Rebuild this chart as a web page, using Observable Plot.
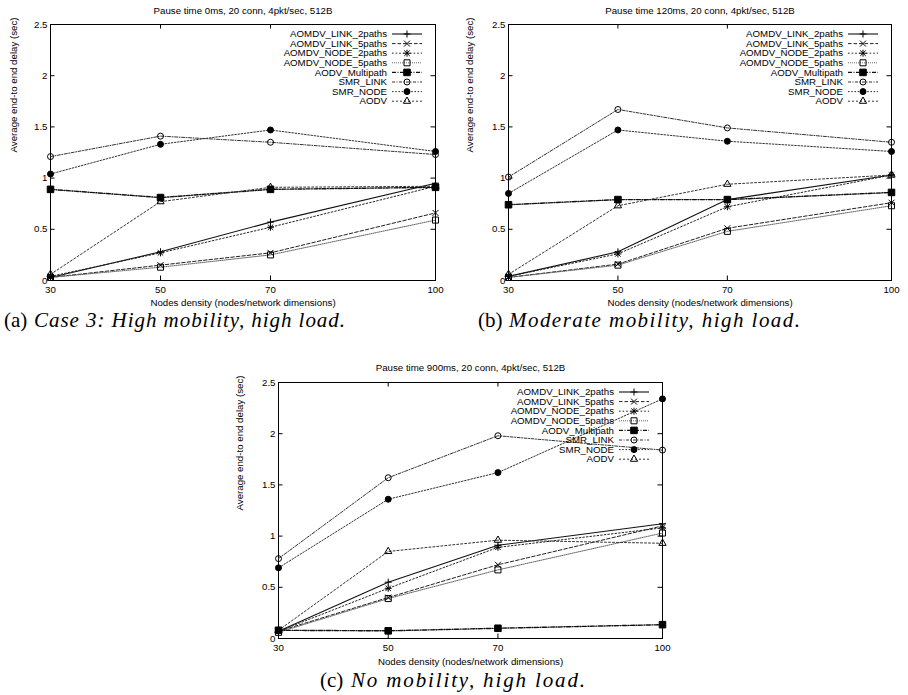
<!DOCTYPE html>
<html><head><meta charset="utf-8">
<script src="https://cdn.jsdelivr.net/npm/d3@7"></script>
<script src="https://cdn.jsdelivr.net/npm/@observablehq/plot@0.6"></script>
<style>
html,body{margin:0;padding:0;background:#fff;}
body{width:908px;height:695px;position:relative;overflow:hidden;}
.panel{position:absolute;}
.panel svg{overflow:visible;}
#captions{position:absolute;left:0;top:0;pointer-events:none;}
</style></head><body>
<script>
// ---- data ----
const nodes = [30, 50, 70, 100];
const yTicks = [0, 0.5, 1, 1.5, 2, 2.5];
const protocols = ["AOMDV_LINK_2paths", "AOMDV_LINK_5paths", "AOMDV_NODE_2paths", "AOMDV_NODE_5paths",
  "AODV_Multipath", "SMR_LINK", "SMR_NODE", "AODV"];
// rows follow protocols order, columns follow nodes
const pause0ms = [
  [0.03, 0.28, 0.57, 0.95],
  [0.03, 0.15, 0.27, 0.66],
  [0.04, 0.27, 0.52, 0.92],
  [0.03, 0.13, 0.25, 0.59],
  [0.89, 0.81, 0.89, 0.91],
  [1.21, 1.41, 1.35, 1.23],
  [1.04, 1.33, 1.47, 1.26],
  [0.06, 0.77, 0.91, 0.92]
];
const pause120ms = [
  [0.04, 0.28, 0.79, 1.03],
  [0.03, 0.16, 0.51, 0.76],
  [0.04, 0.26, 0.72, 1.03],
  [0.03, 0.15, 0.48, 0.73],
  [0.74, 0.79, 0.79, 0.86],
  [1.01, 1.67, 1.49, 1.35],
  [0.85, 1.47, 1.36, 1.26],
  [0.06, 0.73, 0.94, 1.03]
];
const pause900ms = [
  [0.07, 0.55, 0.91, 1.12],
  [0.07, 0.40, 0.72, 1.10],
  [0.07, 0.49, 0.89, 1.08],
  [0.06, 0.39, 0.67, 1.03],
  [0.08, 0.075, 0.10, 0.135],
  [0.78, 1.57, 1.98, 1.84],
  [0.69, 1.36, 1.62, 2.34],
  [0.08, 0.85, 0.96, 0.93]
];
const titles = ["Pause time 0ms, 20 conn, 4pkt/sec, 512B", "Pause time 120ms, 20 conn, 4pkt/sec, 512B", "Pause time 900ms, 20 conn, 4pkt/sec, 512B"];
const xLabel = "Nodes density (nodes/network dimensions)";
const yLabel = "Average end-to end delay (sec)";
const captionTags = ["(a)", "(b)", "(c)"];
const captionTexts = ["Case 3: High mobility, high load.", "Moderate mobility, high load.", "No mobility, high load."];

// ---- styles ----
const lineStyles = [
  {dash: null, width: 1.1, color: "#111"},
  {dash: "3.5,2", width: 1, color: "#222"},
  {dash: "1.6,2", width: 1, color: "#222"},
  {dash: "1,1", width: 1, color: "#666"},
  {dash: "4,1.5,1,1.5", width: 1.4, color: "#111"},
  {dash: "3,1.5,1,1.5", width: 1, color: "#333"},
  {dash: "1.6,1.6", width: 1, color: "#333"},
  {dash: "2,2", width: 1, color: "#333"}
];
const markStyles = [
  [{symbol: "plus", r: 2.4, fill: "none"}],
  [{symbol: "times", r: 2.8, fill: "none"}],
  [{symbol: "plus", r: 2.4, fill: "none"}, {symbol: "times", r: 2.6, fill: "none"}],
  [{symbol: "square", r: 3.4, fill: "none"}],
  [{symbol: "square", r: 3.7, fill: "black"}],
  [{symbol: "circle", r: 3, fill: "none"}],
  [{symbol: "circle", r: 3, fill: "black"}],
  [{symbol: "triangle", r: 2.7, fill: "none"}]
];
const d3Symbols = {plus: d3.symbolPlus, times: d3.symbolTimes, square: d3.symbolSquare, circle: d3.symbolCircle, triangle: d3.symbolTriangle};

const layouts = [
  {left: 0, top: 0, width: 454, height: 312, ml: 50, mr: 19, mt: 24, mb: 32, titleDy: -11, xlDy: 25, ylDx: -37},
  {left: 454, top: 0, width: 454, height: 312, ml: 54, mr: 17, mt: 24, mb: 32, titleDy: -11, xlDy: 25, ylDx: -39},
  {left: 220, top: 340, width: 480, height: 340, ml: 58, mr: 38, mt: 42, mb: 42, titleDy: -12, xlDy: 26, ylDx: -39}
];

function legendMark(index, scales, values, dims) {
  const g = d3.create("svg:g");
  const xr = dims.width - dims.marginRight;
  protocols.forEach((p, i) => {
    const y = dims.marginTop + 10 + 9.6 * i;
    g.append("text").attr("x", xr - 48).attr("y", y).attr("dy", "0.34em")
      .attr("text-anchor", "end").attr("fill", "black").text(p);
    const ls = lineStyles[i];
    g.append("line").attr("x1", xr - 43).attr("x2", xr - 13).attr("y1", y).attr("y2", y)
      .attr("stroke", ls.color).attr("stroke-width", ls.width)
      .attr("stroke-dasharray", ls.dash);
    markStyles[i].forEach(m => {
      g.append("path")
        .attr("transform", `translate(${xr - 28},${y})`)
        .attr("d", d3.symbol(d3Symbols[m.symbol], m.r * m.r * Math.PI)())
        .attr("fill", m.fill).attr("stroke", "black").attr("stroke-width", 1);
    });
  });
  return g.node();
}

function makePanel(values, k) {
  const L = layouts[k];
  const fw = L.width - L.ml - L.mr, fh = L.height - L.mt - L.mb;
  const rows = [];
  protocols.forEach((p, i) => nodes.forEach((n, j) => rows.push({protocol: p, i, nodes: n, delay: values[i][j]})));
  const marks = [
    Plot.frame({stroke: "black", strokeWidth: 1}),
    Plot.tickX(nodes, {x: d => d, insetTop: fh - 4.5, stroke: "black"}),
    Plot.tickX(nodes, {x: d => d, insetBottom: fh - 4.5, stroke: "black"}),
    Plot.tickY(yTicks, {y: d => d, insetRight: fw - 4.5, stroke: "black"}),
    Plot.tickY(yTicks, {y: d => d, insetLeft: fw - 4.5, stroke: "black"}),
    Plot.axisX(nodes, {tickSize: 0, tickPadding: 6, tickFormat: d => String(d), label: null}),
    Plot.axisY(yTicks, {tickSize: 0, tickPadding: 3, tickFormat: d => String(d), label: null}),
    Plot.text([titles[k]], {text: d => d, frameAnchor: "top", lineAnchor: "bottom", dy: L.titleDy, fill: "black"}),
    Plot.text([xLabel], {text: d => d, frameAnchor: "bottom", lineAnchor: "bottom", dy: L.xlDy, fill: "black"}),
    Plot.text([yLabel], {text: d => d, frameAnchor: "left", rotate: -90, dx: L.ylDx, fill: "black"})
  ];
  protocols.forEach((p, i) => {
    const ls = lineStyles[i];
    marks.push(Plot.line(rows.filter(r => r.i === i), {x: "nodes", y: "delay", stroke: ls.color, strokeWidth: ls.width, strokeDasharray: ls.dash}));
  });
  protocols.forEach((p, i) => {
    markStyles[i].forEach(m => {
      marks.push(Plot.dot(rows.filter(r => r.i === i), {x: "nodes", y: "delay", symbol: m.symbol, r: m.r, fill: m.fill, stroke: "black", strokeWidth: 1}));
    });
  });
  marks.push(legendMark);
  const chart = Plot.plot({
    width: L.width, height: L.height,
    marginLeft: L.ml, marginRight: L.mr, marginTop: L.mt, marginBottom: L.mb,
    x: {type: "linear", domain: [30, 100]},
    y: {type: "linear", domain: [0, 2.5]},
    style: {fontFamily: "'Liberation Sans', Arial, Helvetica, sans-serif", fontSize: "9.7px", color: "black", background: "transparent"},
    marks
  });
  const div = document.createElement("div");
  div.className = "panel";
  div.style.left = L.left + "px";
  div.style.top = L.top + "px";
  div.appendChild(chart);
  document.body.appendChild(div);
}

makePanel(pause0ms, 0);
makePanel(pause120ms, 1);
makePanel(pause900ms, 2);

// captions
const capPos = [
  {tagX: 4, textX: 34, textEnd: 345, y: 327},
  {tagX: 478, textX: 509, textEnd: 800, y: 327},
  {tagX: 320, textX: 351, textEnd: 585, y: 687}
];
const capSvg = d3.select("body").append("svg").attr("id", "captions").attr("width", 908).attr("height", 695)
  .style("font-family", "'Liberation Serif', 'Times New Roman', serif").style("font-size", "21px");
capPos.forEach((c, i) => {
  capSvg.append("text").attr("x", c.tagX).attr("y", c.y).attr("fill", "black").text(captionTags[i]);
  capSvg.append("text").attr("x", c.textX).attr("y", c.y).attr("fill", "black").style("font-style", "italic")
    .attr("textLength", c.textEnd - c.textX).attr("lengthAdjust", "spacing").text(captionTexts[i]);
});
</script>
</body></html>
